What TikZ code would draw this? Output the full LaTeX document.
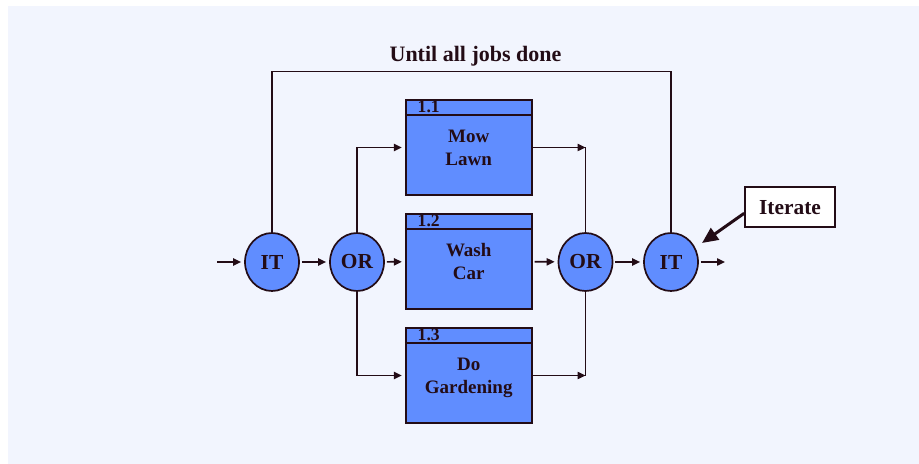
\documentclass[tikz,border=0pt]{standalone}
\usepackage{fontspec}
\setmainfont{Liberation Serif}
\usetikzlibrary{arrows.meta,shapes.geometric}
\definecolor{bgpanel}{RGB}{242,245,254}
\definecolor{taskblue}{RGB}{96,141,255}
\definecolor{ink}{RGB}{35,12,22}

\begin{document}
\begin{tikzpicture}[x=0.5pt,y=-0.5pt,color=ink,line width=0.85pt,
  >={Triangle[length=4pt,width=3.6pt]},
  gate/.style={ellipse,draw,fill=taskblue,minimum width=27pt,minimum height=29pt,
    inner sep=0pt,font=\fontsize{10.7}{12}\selectfont\bfseries},
  task/.style={rectangle,draw,fill=taskblue,minimum width=63pt,minimum height=47.5pt,
    inner sep=0pt,text depth=0pt,align=center,font=\fontsize{9.5}{11.4}\selectfont\bfseries},
  tasknum/.style={anchor=west,inner sep=0pt,font=\fontsize{8.8}{10}\selectfont\bfseries},
  flow/.style={->,shorten >=1.5pt,shorten <=1pt}]
  \useasboundingbox (0,0) rectangle (919,464);
  \fill[bgpanel] (8,6) rectangle (919,464);

  % Gates and tasks on the main line.
  \node[gate] (it1) at (272,262) {IT};
  \node[gate] (or1) at (357,262) {OR};
  \node[task] (mow) at (468.7,147.5) {Mow\\Lawn};
  \node[task] (wash) at (468.7,261.5) {Wash\\Car};
  \node[task] (garden) at (468.7,375.5) {Do\\Gardening};
  \node[gate] (or2) at (585.5,262) {OR};
  \node[gate] (it2) at (671,262) {IT};

  % Task number headers.
  \foreach \t/\n in {mow/1.1,wash/1.2,garden/1.3} {
    \draw ([yshift=-8pt]\t.north west) -- ([yshift=-8pt]\t.north east);
    \node[tasknum] (\t-num) at ([xshift=6pt,yshift=-4pt]\t.north west) {\n};
  }

  \node[anchor=base,font=\fontsize{11}{13}\selectfont\bfseries] (title) at (475.5,61.7) {Until all jobs done};
  \node[draw,fill=white,minimum width=45pt,minimum height=20pt,inner sep=0pt,
    font=\fontsize{10.7}{12}\selectfont\bfseries] (iter) at (790,207.3) {Iterate};

  \coordinate (in) at (215,262);
  \coordinate (out) at (728,262);
  \coordinate (looptop) at (475,71.5);
  \coordinate (itertip) at (702,243);

  % Main flow.
  \draw[flow] (in) -- (it1.west);
  \draw[flow] (it1) -- (or1);
  \draw[flow] (or1) -- (wash);
  \draw[flow] (wash) -- (or2);
  \draw[flow] (or2) -- (it2);
  \draw[flow] (it2) -- (out);

  % Branches.
  \draw[->,shorten >=1.5pt] (or1.north) |- (mow.west);
  \draw[->,shorten >=1.5pt] (or1.south) |- (garden.west);
  \draw[->] (mow.east) -- (mow.east -| or2.north);
  \draw (mow.east -| or2.north) -- (or2.north);
  \draw[->] (garden.east) -- (garden.east -| or2.south);
  \draw (garden.east -| or2.south) -- (or2.south);

  % Loop back.
  \draw (it1.north) |- (looptop) -| (it2.north);
  \draw[-{Triangle[length=8pt,width=7pt]},line width=1.5pt] ([yshift=-3pt]iter.west) -- (itertip);
\end{tikzpicture}
\end{document}
